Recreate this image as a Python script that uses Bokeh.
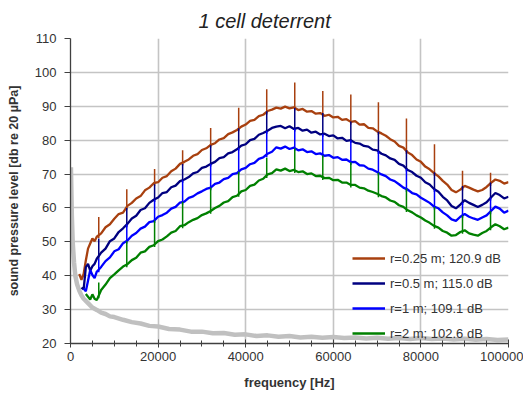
import numpy as np
from bokeh.plotting import figure
from bokeh.models import Range1d, SingleIntervalTicker, Legend, LegendItem, BasicTickFormatter
from bokeh.embed import file_html
from bokeh.resources import INLINE

NaN = float("nan")

title_text = "1 cell deterrent"
x_label = "frequency [Hz]"
y_label = "sound pressure level [db re 20 µPa]"
series_labels = ["r=0.25 m; 120.9 dB", "r=0.5 m; 115.0 dB", "r=1 m; 109.1 dB", "r=2 m; 102.6 dB"]

freq = [1500, 2000, 2500, 3000, 3500, 4000, 4500, 5000, 5500, 6000] + list(range(7000, 100001, 1000))

spl_r025 = [NaN, 40.5, 38.8, 40.5, 44.5, 48.0, 49.5, 51.0, 50.2, 51.5,
            52.5, 54.3, 55.2, 56.8, 58.2, 58.6, 60.6, 61.5, 62.8, 63.5,
            65.2, 66.0, 67.3, 67.6, 68.9, 69.4, 70.8, 71.6, 73.0, 73.6,
            74.3, 75.4, 75.9, 77.1, 77.6, 78.6, 79.1, 80.2, 80.6, 81.8,
            82.3, 83.0, 84.0, 84.6, 85.7, 86.0, 87.1, 87.5, 88.6, 89.0,
            89.6, 89.3, 89.9, 89.4, 89.7, 88.9, 89.2, 88.4, 88.6, 87.8,
            88.0, 87.2, 87.5, 86.7, 86.9, 86.0, 86.2, 85.4, 85.6, 84.6,
            84.7, 83.6, 83.5, 82.6, 82.0, 81.3, 80.3, 79.6, 78.3, 77.8,
            76.4, 75.6, 74.3, 73.6, 72.2, 71.4, 70.3, 69.3, 68.0, 66.9,
            65.3, 64.6, 65.4, 66.5, 66.0, 65.4, 64.9, 65.3, 66.2, 67.4,
            68.4, 68.0, 67.2, 67.6]

spl_r05 = [NaN, NaN, 36.5, 36.0, 42.5, 43.5, 41.5, 42.8, 43.5, 45.0,
           46.8, 48.0, 50.2, 51.0, 52.9, 54.0, 55.3, 56.9, 57.7, 59.4,
           59.9, 61.5, 62.4, 63.1, 64.4, 64.7, 66.1, 66.6, 67.9, 68.4,
           69.1, 70.2, 70.6, 71.8, 72.2, 73.0, 73.6, 74.7, 75.0, 76.1,
           76.5, 77.3, 78.4, 78.8, 80.0, 80.4, 81.6, 82.1, 82.8, 83.6,
           84.0, 84.2, 83.5, 84.1, 83.3, 83.6, 82.8, 83.1, 82.2, 82.5,
           81.7, 81.9, 81.2, 81.4, 80.5, 80.7, 79.8, 80.0, 79.2, 79.0,
           78.3, 78.1, 77.2, 77.0, 76.0, 75.5, 74.6, 74.2, 73.0, 72.5,
           71.2, 70.6, 69.5, 68.9, 67.6, 66.9, 65.6, 64.8, 63.3, 62.2,
           60.6, 59.9, 61.0, 62.3, 61.5, 60.9, 60.3, 60.9, 61.7, 63.1,
           64.4, 63.8, 62.8, 63.3]

spl_r1 = [NaN, NaN, NaN, 36.2, 35.4, 38.5, 41.7, 40.2, 39.3, 41.2,
          42.6, 44.3, 45.4, 47.2, 47.8, 49.6, 50.4, 51.8, 52.6, 53.9,
          54.5, 55.8, 56.1, 57.4, 57.9, 58.6, 59.8, 60.3, 61.6, 61.9,
          63.0, 63.4, 64.3, 64.9, 65.6, 66.0, 67.1, 67.5, 68.5, 68.9,
          70.0, 70.3, 71.4, 71.8, 72.9, 73.3, 74.5, 74.9, 76.0, 76.6,
          77.9, 77.5, 78.1, 77.4, 77.8, 77.0, 77.3, 76.5, 76.7, 75.9,
          76.1, 75.4, 75.6, 74.8, 75.0, 74.2, 74.3, 73.5, 73.6, 72.6,
          72.5, 71.6, 71.3, 70.6, 69.9, 69.4, 68.4, 67.9, 67.0, 66.0,
          65.4, 64.4, 64.0, 63.0, 62.3, 61.5, 60.4, 59.9, 58.7, 57.8,
          56.6, 56.2, 57.4, 58.2, 57.4, 56.9, 56.5, 57.2, 57.8, 59.1,
          60.4, 59.8, 58.6, 59.2]

spl_r2 = [NaN, NaN, NaN, NaN, 34.6, 33.8, 33.0, 34.5, 33.2, 32.8,
          35.8, 37.4, 39.3, 40.4, 41.6, 42.7, 43.4, 44.6, 45.3, 46.8,
          47.2, 48.5, 49.0, 50.2, 50.7, 51.6, 52.7, 53.2, 54.6, 54.9,
          55.8, 56.5, 57.0, 57.9, 58.4, 59.1, 60.0, 60.6, 61.6, 62.0,
          63.2, 63.6, 64.9, 65.3, 66.5, 66.9, 68.1, 68.6, 69.9, 70.3,
          71.4, 71.0, 71.6, 70.9, 71.2, 70.6, 70.8, 70.0, 70.2, 69.4,
          69.5, 68.8, 68.9, 68.2, 68.3, 67.5, 67.5, 66.8, 66.8, 66.0,
          65.8, 65.1, 64.7, 64.2, 63.5, 63.1, 62.2, 61.8, 60.8, 60.3,
          59.3, 58.7, 57.8, 57.2, 56.3, 55.6, 54.7, 54.2, 53.2, 52.7,
          51.8, 52.0, 52.9, 53.4, 52.5, 52.1, 51.8, 52.6, 53.2, 54.3,
          55.2, 54.6, 53.7, 54.2]

# tonal peaks (harmonics) - tip levels per series
spike_freq = [6450, 12850, 19200, 25600, 32000, 38400, 44800, 51200, 57600, 64000, 70300, 76700, 83100, 89500, 95900]
tip_r025 = [57.3, 65.5, 71.5, 77.0, 83.6, 89.6, 95.0, 97.0, 94.5, 93.5, 91.2, 86.4, 78.8, 71.0, 70.4]
tip_r05 = [51.0, 60.0, 67.0, 73.0, 78.5, 83.5, 88.5, 89.5, 88.0, 85.5, 82.5, 77.0, 70.5, 66.5, 67.5]
tip_r1 = [45.0, 55.1, 62.5, 68.2, 73.0, 77.7, 82.7, 83.4, 81.8, 80.0, 76.9, 71.5, 65.5, 61.6, 63.0]
tip_r2 = [38.0, 50.2, 56.3, 61.8, 66.0, 70.7, 74.8, 77.6, 75.5, 73.5, 70.4, 65.7, 60.3, 57.8, 59.0]

# background noise
noise_freq = [100, 300, 500, 800, 1100, 1500, 2000, 2500, 3000, 4000, 5000, 6000, 7000, 8000, 9000,
              10000, 12000, 14000, 16000, 18000, 20000, 22500, 25000, 27500, 30000, 32500, 35000,
              37500, 40000, 42500, 45000, 47500, 50000, 52500, 55000, 57500, 60000, 62500, 65000,
              67500, 70000, 72500, 75000, 77500, 80000, 82500, 85000, 87500, 90000, 92500, 95000,
              97500, 100000]
noise_spl = [72.0, 58.0, 50.0, 44.0, 40.0, 37.5, 35.6, 34.2, 33.2, 31.9, 30.6, 29.9, 29.1, 28.7, 28.0,
             27.8, 27.0, 26.3, 25.9, 25.2, 25.0, 24.3, 24.1, 23.5, 23.5, 23.0, 23.1,
             22.6, 22.7, 22.2, 22.4, 22.0, 22.2, 21.8, 22.0, 21.7, 21.9, 21.6, 21.8,
             21.5, 21.7, 21.4, 21.6, 21.3, 21.6, 21.3, 21.5, 21.2, 21.4, 21.1, 21.3,
             21.0, 21.2]

x_ticks_major = 20000
y_ticks_major = 10

colors = ["#a8400f", "#000080", "#0000ff", "#008000"]
FONT = "Liberation Sans"
TXT = "#333333"

p = figure(width=523, height=392, output_backend="svg", toolbar_location=None,
           x_range=Range1d(0, 100000), y_range=Range1d(20, 110),
           min_border_left=70, min_border_right=15, min_border_top=38, min_border_bottom=46)
p.outline_line_color = None
p.background_fill_color = "white"
p.border_fill_color = "white"

p.title.text = title_text
p.title.align = "left"
p.title.offset = 128
p.title.text_font = FONT
p.title.text_font_style = "italic"
p.title.text_font_size = "20px"
p.title.text_color = "#222222"
p.title.standoff = 13

xt = SingleIntervalTicker(interval=x_ticks_major, num_minor_ticks=4)
yt = SingleIntervalTicker(interval=y_ticks_major, num_minor_ticks=0)
p.xaxis.ticker = xt
p.yaxis.ticker = yt
p.xgrid.ticker = xt
p.ygrid.ticker = yt
p.xaxis.formatter = BasicTickFormatter(use_scientific=False)

for g in (p.xgrid, p.ygrid):
    g.grid_line_color = "#c4c4c4"
    g.grid_line_width = 1.6

for ax in (p.xaxis, p.yaxis):
    ax.axis_line_color = "#404040"
    ax.axis_line_width = 1.3
    ax.major_tick_line_color = "#404040"
    ax.minor_tick_line_color = "#404040"
    ax.major_label_text_font = FONT
    ax.major_label_text_font_size = "13px"
    ax.major_label_text_color = TXT
    ax.axis_label_text_font = FONT
    ax.axis_label_text_font_style = "bold"
    ax.axis_label_text_color = TXT

p.xaxis.axis_label = x_label
p.xaxis.axis_label_text_font_size = "13px"
p.xaxis.major_tick_in = 4
p.xaxis.major_tick_out = 4
p.xaxis.minor_tick_in = 3
p.xaxis.minor_tick_out = 3
p.xaxis.major_label_standoff = 4
p.xaxis.axis_label_standoff = 11

p.yaxis.axis_label = y_label
p.yaxis.axis_label_text_font_size = "12.5px"
p.yaxis.major_tick_in = 0
p.yaxis.major_tick_out = 6
p.yaxis.major_label_standoff = 8
p.yaxis.axis_label_standoff = 11

f_arr = np.array(freq, dtype=float)

p.line(noise_freq, noise_spl, line_color="#c0c0c0", line_width=4.5)

items = []
for vals, tips, col, lab in zip([spl_r025, spl_r05, spl_r1, spl_r2],
                                [tip_r025, tip_r05, tip_r1, tip_r2],
                                colors, series_labels):
    v = np.array(vals, dtype=float)
    r = p.line(f_arr, v, line_color=col, line_width=2.3)
    ok = ~np.isnan(v)
    base = np.interp(spike_freq, f_arr[ok], v[ok]) - 0.8
    p.segment(x0=spike_freq, y0=base, x1=spike_freq, y1=tips, line_color=col, line_width=1.5)
    items.append(LegendItem(label=lab, renderers=[r]))

legend = Legend(items=items, location=(282, 0), orientation="vertical")
legend.background_fill_alpha = 0
legend.border_line_alpha = 0
legend.padding = 0
legend.margin = 0
legend.spacing = 5
legend.glyph_width = 33
legend.glyph_height = 20
legend.label_height = 20
legend.label_standoff = 5
legend.label_text_font = FONT
legend.label_text_font_size = "13px"
legend.label_text_color = TXT
p.add_layout(legend, "center")

open("out.html", "w").write(file_html(p, INLINE))
